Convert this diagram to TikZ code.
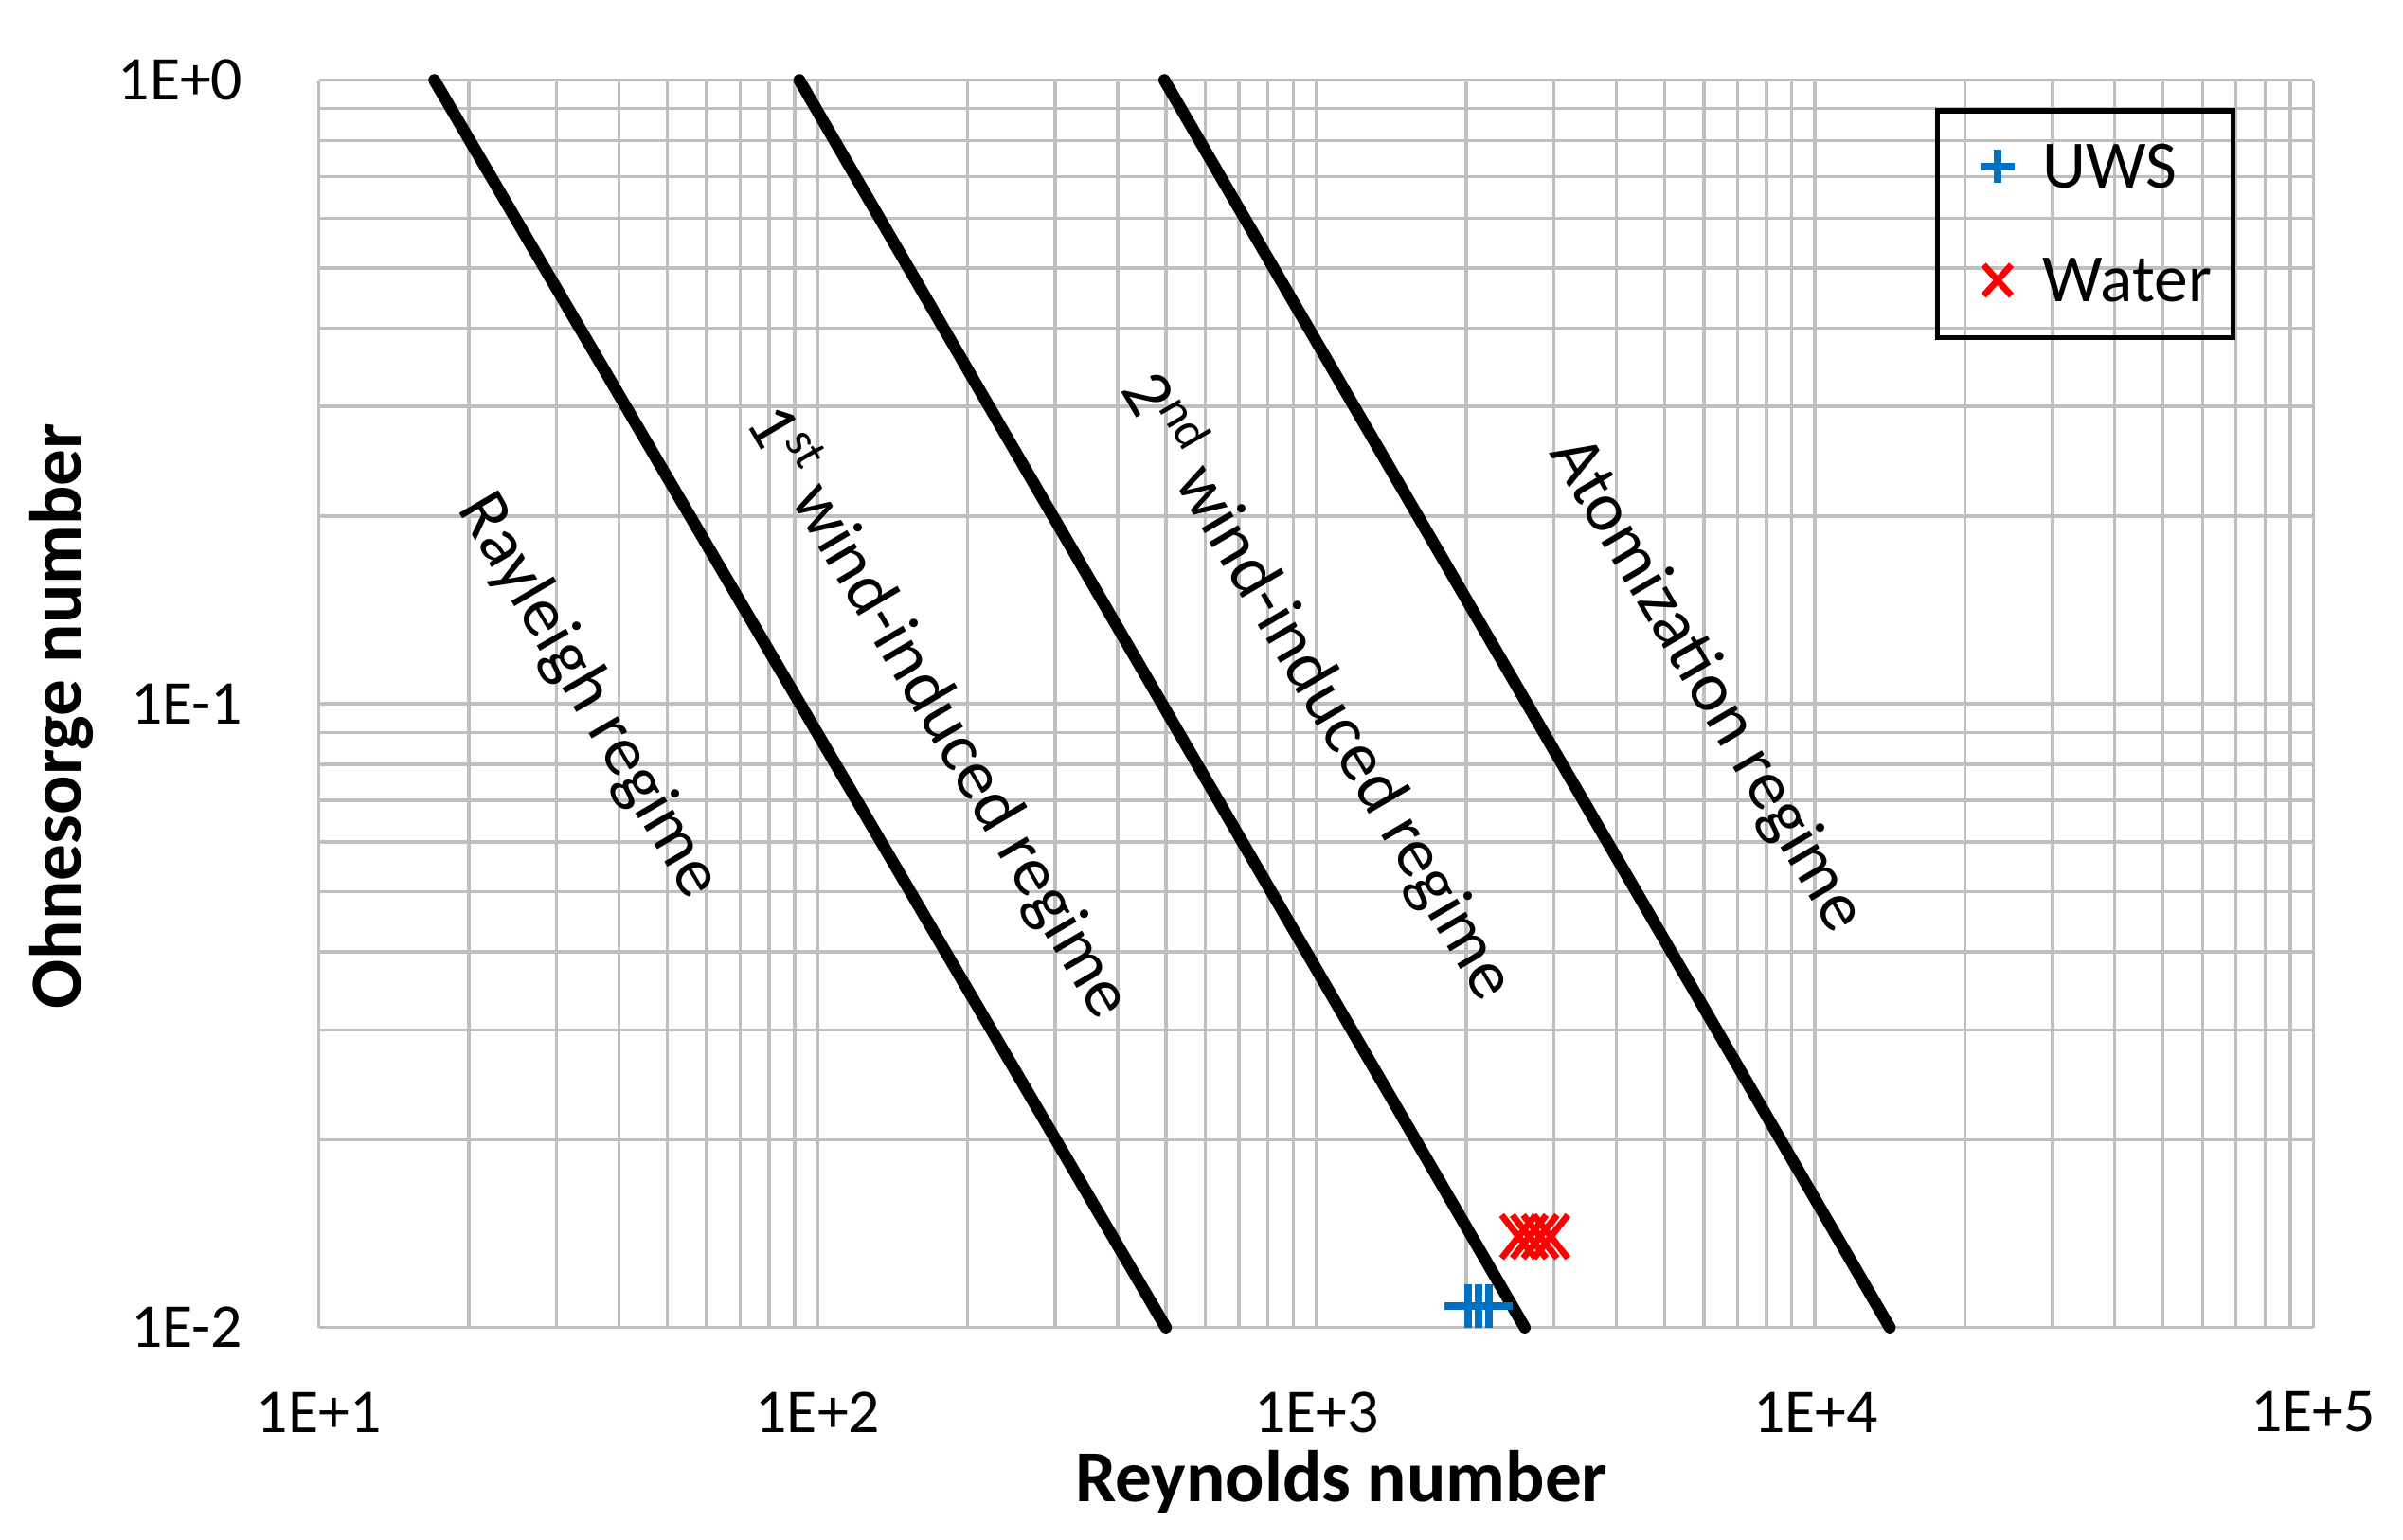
\documentclass[tikz,border=0pt]{standalone}
\usepackage{fontspec}
\setmainfont{Carlito}
\begin{document}
\begin{tikzpicture}[x=0.01cm,y=-0.01cm,
  grid/.style={draw=black!25,line width=0.6pt},
  regline/.style={line width=2.2pt,line cap=round},
  reglab/.style={font=\fontsize{13}{15}\selectfont,rotate=-59.6},
  tick/.style={font=\fontsize{11.5}{14}\selectfont},
  legtext/.style={font=\fontsize{12.5}{15}\selectfont,anchor=west},
  axtitle/.style={font=\fontsize{13.5}{16}\selectfont\bfseries},
  uws/.style={draw={rgb,255:red,0;green,112;blue,192},line width=1.4pt},
  wat/.style={draw=red,line width=1.2pt}]
\useasboundingbox (0,0) rectangle (1560.3,1000);
% vertical grid
\foreach \d in {0,1,2,3}{
  \foreach \k in {1,...,9}{
    \pgfmathsetmacro{\xx}{207+323.75*(\d+log10(\k))}
    \draw[grid] (\xx,52) -- (\xx,862);
  }}
\draw[grid] (1502,52) -- (1502,862);
% horizontal grid
\foreach \d in {0,1}{
  \foreach \k in {1,...,9}{
    \pgfmathsetmacro{\yy}{862-405*(\d+log10(\k))}
    \draw[grid] (207,\yy) -- (1502,\yy);
  }}
\draw[grid] (207,52) -- (1502,52);
% regime lines
\coordinate (a1) at (282,52); \coordinate (a2) at (757,862);
\coordinate (b1) at (519,52); \coordinate (b2) at (990,862);
\coordinate (c1) at (756,52); \coordinate (c2) at (1227,862);
\draw[regline] (a1) -- (a2);
\draw[regline] (b1) -- (b2);
\draw[regline] (c1) -- (c2);
% labels
\node[reglab] (l1) at (382,452) {Rayleigh regime};
\node[reglab] (l2) at (610,462) {1\textsuperscript{st} wind-induced regime};
\node[reglab] (l3) at (857,445) {2\textsuperscript{nd} wind-induced regime};
\node[reglab] (l4) at (1108,445) {Atomization regime};
% data
\foreach \x in {953,960,967}{
  \draw[uws] (\x-15,848) -- (\x+15,848) (\x,834) -- (\x,862);}
\foreach \x in {986,993,1000,1007}{
  \draw[wat] (\x-11,789) -- (\x+11,817) (\x-11,817) -- (\x+11,789);}
% legend
\draw[line width=0.9pt] (1258,72) rectangle (1450,219);
\draw[uws] (1286,108) -- (1308,108) (1297,97) -- (1297,119);
\node[legtext] (t1) at (1314,108) {UWS};
\draw[wat] (1288,172) -- (1306,192) (1288,192) -- (1306,172);
\node[legtext] (t2) at (1314,182) {Water};
% ticks
\node[tick] (x1) at (207,917) {1E+1};
\node[tick] (x2) at (531,917) {1E+2};
\node[tick] (x3) at (855,917) {1E+3};
\node[tick] (x4) at (1179,917) {1E+4};
\node[tick] (x5) at (1502,917) {1E+5};
\node[tick,anchor=east] (y1) at (170,52) {1E+0};
\node[tick,anchor=east] (y2) at (170,457) {1E-1};
\node[tick,anchor=east] (y3) at (170,862) {1E-2};
\node[axtitle] (xt) at (871,962) {Reynolds number};
\node[axtitle,rotate=90] (yt) at (40,465) {Ohnesorge number};
\end{tikzpicture}
\end{document}
